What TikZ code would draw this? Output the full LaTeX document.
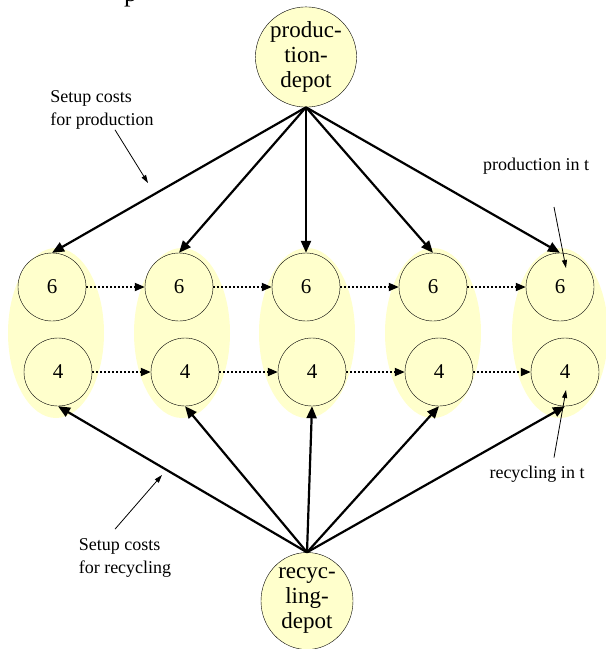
\documentclass[tikz,border=0pt]{standalone}
\usepackage{fontspec}
\setmainfont{Liberation Serif}
\usetikzlibrary{arrows.meta,shapes.geometric}
\definecolor{paleyellow}{RGB}{255,255,204}

\begin{document}
\begin{tikzpicture}[x=1pt, y=-1pt,
    depot/.style={draw, ellipse, fill=paleyellow, inner sep=0pt, minimum width=92pt, minimum height=97pt, align=center, font=\fontsize{23}{25}\selectfont},
    period/.style={ellipse, fill=paleyellow, inner sep=0pt, minimum width=96pt, minimum height=170pt},
    stock/.style={draw, circle, fill=paleyellow, inner sep=0pt, minimum size=68pt, font=\fontsize{21}{21}\selectfont},
    note/.style={align=left, inner sep=0pt, font=\fontsize{18}{23.5}\selectfont},
    flow/.style={-{Triangle[length=12pt,width=10pt]}, line width=2.2pt},
    carry/.style={-{Triangle[length=10pt,width=8pt]}, line width=1.8pt, dash pattern=on 1.8pt off 2.2pt},
    pointer/.style={-{Triangle[length=8pt,width=5pt]}, line width=0.8pt}]
    \useasboundingbox (0,0) rectangle (606,649);
    \node[anchor=base west, inner sep=0pt, font=\fontsize{26}{26}\selectfont] (title) at (124,1) {p};
    % periods
    \node[period] (per1) at (56,333) {};
    \node[period] (per2) at (182,333) {};
    \node[period] (per3) at (307,333) {};
    \node[period] (per4) at (433,333) {};
    \node[period] (per5) at (560,333) {};
    \node[stock] (prod1) at (52,287) {6};
    \node[stock] (prod2) at (179,287) {6};
    \node[stock] (prod3) at (306,287) {6};
    \node[stock] (prod4) at (433,287) {6};
    \node[stock] (prod5) at (560,287) {6};
    \node[stock] (rec1) at (58,372) {4};
    \node[stock] (rec2) at (185,372) {4};
    \node[stock] (rec3) at (312,372) {4};
    \node[stock] (rec4) at (439,372) {4};
    \node[stock] (rec5) at (565,372) {4};
    % depots
    \node[depot] (pdepot) at (306,57) {produc-\\tion-\\depot};
    \node[depot] (rdepot) at (307,601) {recyc-\\ling-\\depot};
    \draw[flow] (pdepot.south) -- (prod1.north);
    \draw[flow] (pdepot.south) -- (prod2.north);
    \draw[flow] (pdepot.south) -- (prod3.north);
    \draw[flow] (pdepot.south) -- (prod4.north);
    \draw[flow] (pdepot.south) -- (prod5.north);
    \draw[flow] (rdepot.north) -- (rec1.south);
    \draw[flow] (rdepot.north) -- (rec2.south);
    \draw[flow] (rdepot.north) -- (rec3.south);
    \draw[flow] (rdepot.north) -- (rec4.south);
    \draw[flow] (rdepot.north) -- (rec5.south);
    \draw[carry] (prod1) -- (prod2);
    \draw[carry] (prod2) -- (prod3);
    \draw[carry] (prod3) -- (prod4);
    \draw[carry] (prod4) -- (prod5);
    \draw[carry] (rec1) -- (rec2);
    \draw[carry] (rec2) -- (rec3);
    \draw[carry] (rec3) -- (rec4);
    \draw[carry] (rec4) -- (rec5);
    % labels
    \node[note] (setprod) at (102,110) {Setup costs\\for production};
    \node[note] (setrec) at (125,558) {Setup costs\\for recycling};
    \node[note] (prodt) at (536,166) {production in t};
    \node[note] (rect) at (537,474) {recycling in t};
    \coordinate (setprodtip) at (148,183);
    \coordinate (setrectip) at (162,475);
    \coordinate (prodtfoot) at (554,207);
    \coordinate (prodttip) at (566,268);
    \coordinate (recttip) at (566,390);
    \draw[pointer] ([xshift=13pt]setprod.south) -- (setprodtip);
    \draw[pointer] ([xshift=-10pt,yshift=9pt]setrec.north) -- (setrectip);
    \draw[pointer] (prodtfoot) -- (prodttip);
    \draw[pointer] ([xshift=17pt,yshift=8pt]rect.north) -- (recttip);
\end{tikzpicture}
\end{document}
